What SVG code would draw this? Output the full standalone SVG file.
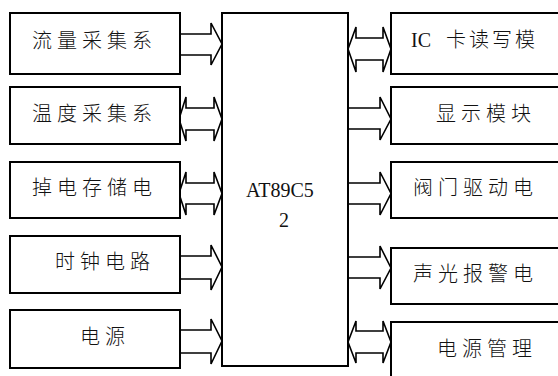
<svg xmlns="http://www.w3.org/2000/svg" width="558" height="376" viewBox="0 0 558 376">
<style>
.box{fill:#fff;stroke:#000;stroke-width:2}
.arr{fill:#fff;stroke:#000;stroke-width:1.6;stroke-linejoin:miter}
.t{font-family:"Liberation Serif","Noto Sans CJK SC",serif;font-size:20px;font-weight:300;fill:#111;letter-spacing:5px}
.c{font-family:"Liberation Serif","Noto Sans CJK SC",serif;font-size:20px;fill:#111}
</style>
<rect width="558" height="376" fill="#fff"/>
<g id="connectors">
<polyline class="arr" points="180,34 211,34 211,23 222,44 211,65 211,55 180,55"/>
<polygon class="arr" points="186,108 214,108 214,97 222,119 214,141 214,130 186,130 186,141 179,119 186,97"/>
<polygon class="arr" points="186,183 214,183 214,172 222,193.5 214,215 214,204 186,204 186,215 179,193.5 186,172"/>
<polyline class="arr" points="180,256 211,256 211,245 222,267 211,290 211,279 180,279"/>
<polyline class="arr" points="180,330 211,330 211,319 222,341 211,364 211,353 180,353"/>
<polygon class="arr" points="356,38 383,38 383,27 391,49 383,72 383,60 356,60 356,72 348,49 356,27"/>
<polyline class="arr" points="348,108 380,108 380,97 391,119 380,140 380,129 348,129"/>
<polyline class="arr" points="348,183 380,183 380,172 391,193.5 380,215 380,204 348,204"/>
<polyline class="arr" points="348,257 380,257 380,246 391,268 380,289 380,278 348,278"/>
<polygon class="arr" points="356,331 383,331 383,321 391,342 383,363 383,353 356,353 356,363 348,342 356,321"/>
</g>
<g id="n-flow"><rect class="box" x="10" y="13" width="170" height="61"/><text class="t" x="32" y="48">流量采集系</text></g>
<g id="n-temp"><rect class="box" x="10" y="87" width="170" height="57"/><text class="t" x="32" y="121">温度采集系</text></g>
<g id="n-store"><rect class="box" x="10" y="162" width="170" height="56"/><text class="t" x="32" y="195">掉电存储电</text></g>
<g id="n-clock"><rect class="box" x="10" y="236" width="170" height="57"/><text class="t" x="55" y="269">时钟电路</text></g>
<g id="n-power"><rect class="box" x="10" y="310" width="170" height="58"/><text class="t" x="80" y="344">电源</text></g>
<g id="n-mcu"><rect class="box" x="222" y="13" width="126" height="353"/><text class="c" x="246" y="197">AT89C5</text><text class="c" x="284" y="227" text-anchor="middle">2</text></g>
<g id="n-ic"><rect class="box" x="391" y="13" width="180" height="61"/><text class="t" x="411" y="47" xml:space="preserve"><tspan style="letter-spacing:0">IC </tspan><tspan x="446" style="letter-spacing:3px">卡读写模</tspan></text></g>
<g id="n-disp"><rect class="box" x="391" y="87" width="180" height="57"/><text class="t" x="436" y="121">显示模块</text></g>
<g id="n-valve"><rect class="box" x="391" y="162" width="180" height="56"/><text class="t" x="413" y="195">阀门驱动电</text></g>
<g id="n-alarm"><rect class="box" x="391" y="248" width="180" height="56"/><text class="t" x="413" y="281">声光报警电</text></g>
<g id="n-pm"><rect class="box" x="391" y="322" width="180" height="70"/><text class="t" x="437" y="356">电源管理</text></g>
</svg>
